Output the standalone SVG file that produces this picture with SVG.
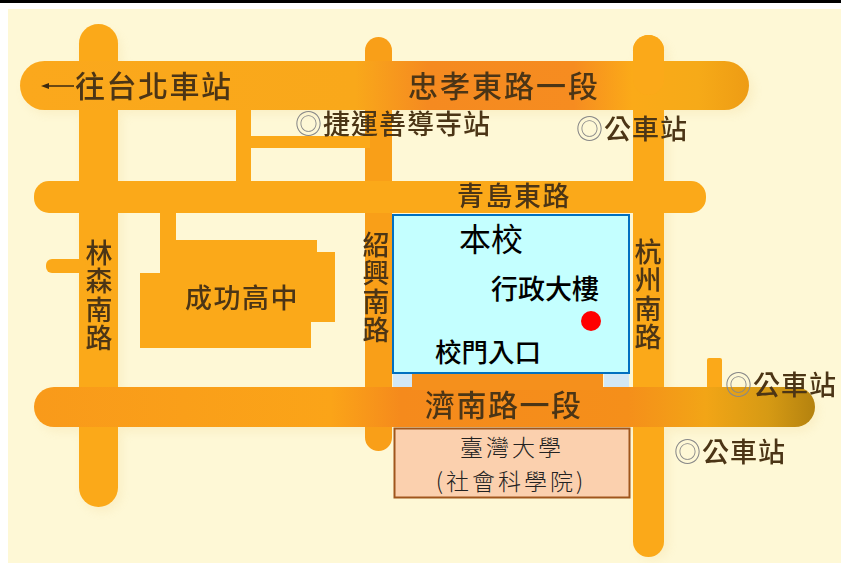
<svg xmlns="http://www.w3.org/2000/svg" width="841" height="563" viewBox="0 0 841 563">
<style>
text{font-family:"Noto Sans CJK TC","Noto Sans CJK SC",sans-serif}
.r{fill:#fba919}
.l{fill:#4c3414;font-weight:500;filter:url(#soft)}
.s{font-size:27px;letter-spacing:1px}
.g{fill:#888;font-weight:400}
.v{writing-mode:vertical-rl;font-size:27px;letter-spacing:1.500px}
.b{fill:#000;font-weight:500}
</style>
<defs>
<filter id="soft" x="-5%" y="-5%" width="110%" height="110%"><feGaussianBlur stdDeviation="0.5"/></filter>
<filter id="shadow" x="-5%" y="-5%" width="110%" height="110%"><feGaussianBlur stdDeviation="5"/></filter>
<linearGradient id="top" x1="20" x2="749" y1="0" y2="0" gradientUnits="userSpaceOnUse">
<stop offset="0" stop-color="#fba81c"/><stop offset=".46" stop-color="#f9a81a"/><stop offset=".56" stop-color="#f58a20"/><stop offset=".76" stop-color="#f68c20"/><stop offset=".84" stop-color="#fbaa18"/><stop offset=".93" stop-color="#f6aa18"/><stop offset="1" stop-color="#ee9c14"/>
</linearGradient>
<linearGradient id="jinan" x1="34" x2="815" y1="0" y2="0" gradientUnits="userSpaceOnUse">
<stop offset="0" stop-color="#f99a1a"/><stop offset=".38" stop-color="#fba418"/><stop offset=".47" stop-color="#f58a1c"/><stop offset=".76" stop-color="#f58f1a"/><stop offset=".86" stop-color="#f2a516"/><stop offset=".94" stop-color="#d69a14"/><stop offset="1" stop-color="#b4820f"/>
</linearGradient>
</defs>
<rect width="841" height="563" fill="#fff"/>
<rect x="8" y="9" width="833" height="554" fill="#fef8d6"/>
<rect width="841" height="3" fill="#000"/>
<g id="roads">
<g id="road-shadow" opacity=".12" filter="url(#shadow)" fill="#e0b050">
<rect x="24" y="68" width="730" height="46" rx="23"/><rect x="82" y="30" width="40" height="482" rx="20"/><rect x="637" y="40" width="32" height="520" rx="16"/><rect x="38" y="392" width="780" height="40" rx="20"/>
</g>
<rect class="r" x="79" y="24" width="39" height="483" rx="19.500"/>
<rect x="365" y="37" width="27" height="414" rx="13.500" fill="#f99f18"/>
<rect class="r" x="633" y="35" width="31" height="522" rx="15.500"/>
<rect class="r" x="236" y="100" width="15" height="90"/>
<rect class="r" x="245" y="136" width="125" height="12"/>
<rect class="r" x="34" y="181" width="672" height="32" rx="15"/>
<rect class="r" x="46" y="259" width="40" height="14" rx="6"/>
<rect x="20" y="61" width="729" height="49" rx="24.500" fill="url(#top)"/>
<rect class="r" x="633" y="35" width="31" height="60" rx="15.500"/>
<rect x="707" y="358" width="15" height="40" rx="2" class="r"/>
<rect x="34" y="387" width="781" height="40" rx="20" fill="url(#jinan)"/>
<rect x="412" y="370" width="191" height="20" fill="#f5901c"/>
</g>
<g id="chenggong">
<path class="r" d="M160 205H176V240H317V252H335V322H311V348H140V273H160Z"/>
<text class="l" x="185" y="308" font-size="27" letter-spacing="1.500">成功高中</text>
</g>
<g id="school">
<rect x="393" y="373" width="19" height="14" fill="#d2e8f6"/>
<rect x="604" y="373" width="25" height="14" fill="#d2e8f6"/>
<rect x="393" y="215" width="236" height="158" fill="#c4ffff" stroke="#0070c0" stroke-width="2"/>
<text x="459" y="251" font-size="32" fill="#000">本校</text>
<text class="b" x="491" y="299" font-size="27">行政大樓</text>
<circle cx="591" cy="321" r="10" fill="#f00"/>
<text class="b" x="435" y="362" font-size="26.500">校門入口</text>
</g>
<g id="ntu">
<rect x="394.500" y="428.500" width="235" height="69" fill="#fbd0ae" stroke="#a0561c" stroke-width="2"/>
<text x="512" y="456" font-size="23" letter-spacing="3" text-anchor="middle" fill="#222" font-weight="300">臺灣大學</text>
<text x="511" y="489.500" font-size="23" letter-spacing="3" text-anchor="middle" fill="#222" font-weight="300">(社會科學院)</text>
</g>
<g id="road-labels">
<path d="M46 86H74" stroke="#3c2a10" stroke-width="1.500" fill="none"/><path d="M41 86L49 83V89Z" fill="#3c2a10"/>
<text class="l" x="75" y="97" font-size="30" letter-spacing="1.500">往台北車站</text>
<text class="l" x="408" y="97" font-size="30" letter-spacing="2">忠孝東路一段</text>
<text class="l" x="457" y="206" font-size="27" letter-spacing="1.500">青島東路</text>
<text class="l" x="425" y="416" font-size="30" letter-spacing="1.500">濟南路一段</text>
<text class="l v" x="99" y="239">林森南路</text>
<text class="l v" x="376" y="231">紹興南路</text>
<text class="l v" x="648" y="238">杭州南路</text>
</g>
<g id="stations">
<text class="l s" x="295" y="134"><tspan class="g">◎</tspan>捷運善導寺站</text>
<text class="l s" x="576" y="139"><tspan class="g">◎</tspan>公車站</text>
<text class="l s" x="725" y="395"><tspan class="g">◎</tspan>公車站</text>
<text class="l s" x="674" y="462"><tspan class="g">◎</tspan>公車站</text>
</g>
</svg>
